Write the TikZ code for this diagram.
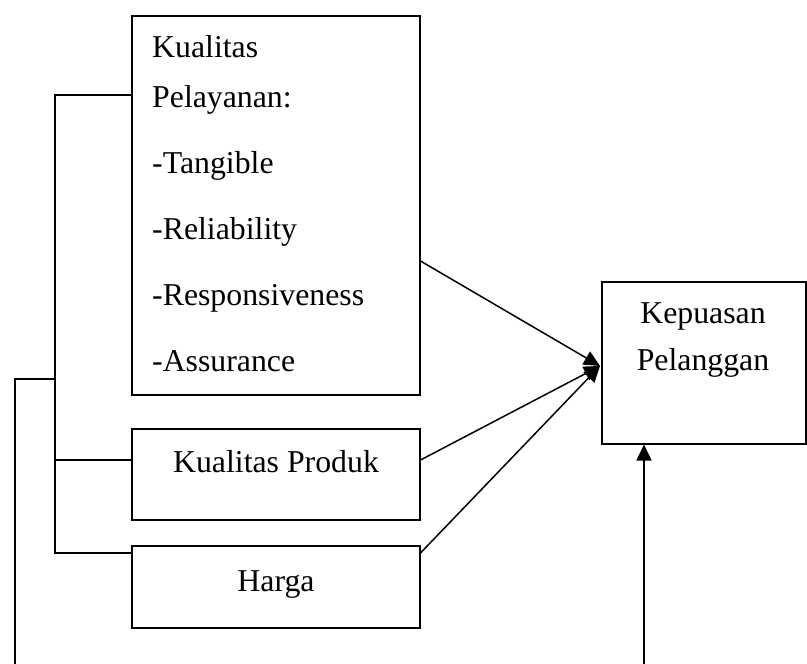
\documentclass[tikz,border=0pt]{standalone}
\usepackage{fontspec}
\setmainfont{Liberation Serif}
\usetikzlibrary{arrows.meta}
\begin{document}
\begin{tikzpicture}[x=1pt,y=-1pt,
  every node/.style={font=\fontsize{31.8}{40}\selectfont, inner sep=0pt},
  box/.style={draw, line width=1.5pt, rectangle, anchor=north west},
  ln/.style={line width=1.5pt},
  arr/.style={line width=1.5pt, -{Triangle[length=16pt,width=15pt]}},
  txt/.style={anchor=base west}]
\useasboundingbox (0,0) rectangle (807,664);
% boxes
\node[box, minimum width=288, minimum height=379] (kp) at (131,15) {};
\node[box, minimum width=288, minimum height=91] (prod) at (131,428) {};
\node[box, minimum width=288, minimum height=82] (harga) at (131,545) {};
\node[box, minimum width=204, minimum height=162] (kep) at (601,281) {};
% texts
\node[txt] (t1) at (152,57) {Kualitas};
\node[txt] (t2) at (152,107) {Pelayanan:};
\node[txt] (t3) at (152,173) {-Tangible};
\node[txt] (t4) at (152,239) {-Reliability};
\node[txt] (t5) at (152,305) {-Responsiveness};
\node[txt] (t6) at (152,371) {-Assurance};
\node[anchor=base] (tp) at (276,472) {Kualitas Produk};
\node[anchor=base] (th) at (276,591) {Harga};
\node[anchor=base] (tk1) at (703,323) {Kepuasan};
\node[anchor=base] (tk2) at (703,370) {Pelanggan};
% bracket
\coordinate (b1) at (55,95);
\coordinate (b2) at (55,379);
\coordinate (b3) at (55,460);
\coordinate (b4) at (55,553);
\coordinate (l1) at (15,379);
\coordinate (l2) at (15,664);
\coordinate (r1) at (644,664);
\coordinate (tip) at (600,366);
\draw[ln] (kp.west |- b1) -- (b1) -- (b4) -- (harga.west |- b4);
\draw[ln] (b3) -- (prod.west |- b3);
\draw[ln] (l2) -- (l1) -- (b2);
% arrows
\draw[arr] (kp.east |- 0,261) -- (tip);
\draw[arr] (prod.east |- b3) -- (tip);
\draw[arr] (harga.east |- b4) -- (tip);
\draw[arr] (r1) -- (r1 |- kep.south);
\end{tikzpicture}
\end{document}
